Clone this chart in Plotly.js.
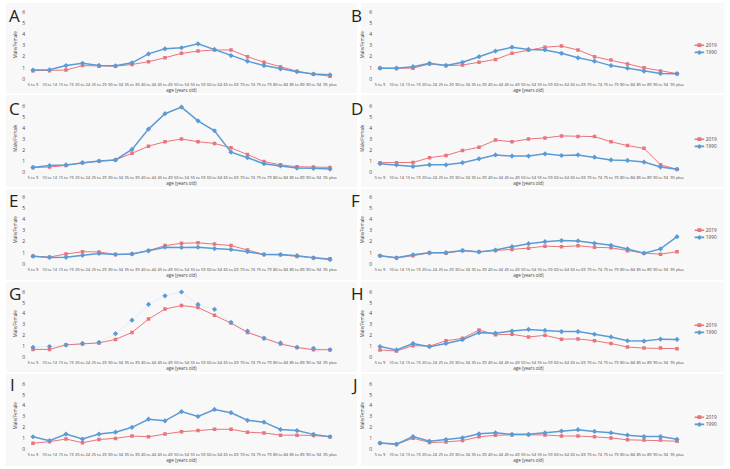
<!DOCTYPE html>
<html><head><meta charset="utf-8">
<script src="https://cdn.plot.ly/plotly-3.0.1.min.js"></script>
<style>html,body{margin:0;padding:0;background:#fff}#chart{width:730px;height:469px}</style>
</head><body><div id="chart"></div>
<script>
const ageGroups = ['5 to 9','10 to 14','15 to 19','20 to 24','25 to 29','30 to 34','35 to 39','40 to 44','45 to 49','50 to 54','55 to 59','60 to 64','65 to 69','70 to 74','75 to 79','80 to 84','85 to 89','90 to 94','95 plus'];
const panelLabels = ['A','B','C','D','E','F','G','H','I','J'];
const seriesNames = ['2019','1990'];

const A_2019 = [0.75,0.75,0.80,1.20,1.15,1.15,1.30,1.55,1.90,2.30,2.50,2.60,2.60,2.00,1.50,1.10,0.70,0.42,0.25];
const A_1990 = [0.80,0.83,1.20,1.40,1.22,1.18,1.45,2.25,2.70,2.80,3.15,2.65,2.10,1.60,1.20,0.90,0.65,0.45,0.38];
const B_2019 = [0.97,0.95,0.97,1.35,1.20,1.25,1.50,1.75,2.30,2.60,2.85,2.95,2.60,2.00,1.70,1.35,1.00,0.72,0.48];
const B_1990 = [0.97,0.97,1.10,1.40,1.20,1.50,2.00,2.50,2.85,2.65,2.60,2.30,1.90,1.60,1.20,0.97,0.70,0.50,0.48];
const C_2019 = [0.42,0.45,0.60,0.85,0.97,1.10,1.70,2.35,2.75,3.00,2.75,2.60,2.20,1.60,0.95,0.65,0.48,0.45,0.42];
const C_1990 = [0.42,0.58,0.64,0.85,1.00,1.10,2.05,3.90,5.30,5.90,4.65,3.75,1.80,1.30,0.75,0.55,0.36,0.33,0.27];
const D_2019 = [0.85,0.85,0.87,1.30,1.50,1.95,2.25,2.90,2.75,3.00,3.10,3.28,3.22,3.22,2.75,2.40,2.15,0.65,0.25];
const D_1990 = [0.75,0.65,0.50,0.65,0.65,0.85,1.20,1.55,1.45,1.45,1.65,1.50,1.55,1.35,1.10,1.05,0.90,0.45,0.25];
const E_2019 = [0.70,0.62,0.90,1.10,1.08,0.85,0.90,1.20,1.65,1.85,1.90,1.80,1.65,1.25,0.85,0.82,0.68,0.55,0.48];
const E_1990 = [0.70,0.58,0.60,0.78,0.95,0.85,0.90,1.18,1.50,1.48,1.50,1.38,1.30,1.10,0.85,0.85,0.75,0.55,0.40];
const F_2019 = [0.74,0.55,0.74,1.00,0.97,1.20,1.10,1.20,1.30,1.42,1.60,1.55,1.63,1.50,1.45,1.18,0.97,0.88,1.10];
const F_1990 = [0.74,0.55,0.83,1.00,1.02,1.20,1.08,1.25,1.55,1.82,2.00,2.10,2.07,1.85,1.68,1.35,0.97,1.35,2.45];
const G_2019 = [0.70,0.70,1.12,1.20,1.30,1.62,2.27,3.50,4.43,4.75,4.57,3.85,3.13,2.27,1.70,1.20,0.88,0.67,0.67];
const G_1990 = [0.90,0.97,1.10,1.25,1.35,2.15,3.40,4.85,5.65,6.00,4.85,4.40,3.20,2.40,1.75,1.30,0.90,0.80,0.67];
const H_2019 = [0.65,0.55,1.05,1.00,1.50,1.72,2.50,2.05,2.10,1.85,2.00,1.65,1.67,1.50,1.25,0.92,0.82,0.82,0.77];
const H_1990 = [0.97,0.65,1.25,0.95,1.25,1.60,2.25,2.20,2.40,2.55,2.45,2.35,2.35,2.10,1.85,1.50,1.47,1.65,1.62];
const I_2019 = [0.53,0.68,0.92,0.58,0.88,0.98,1.20,1.13,1.38,1.60,1.70,1.82,1.82,1.55,1.48,1.28,1.28,1.25,1.13];
const I_1990 = [1.13,0.77,1.38,0.92,1.38,1.55,2.00,2.75,2.60,3.45,3.00,3.65,3.35,2.65,2.48,1.80,1.70,1.35,1.13];
const J_2019 = [0.55,0.42,1.00,0.60,0.65,0.78,1.12,1.27,1.30,1.32,1.30,1.20,1.20,1.12,1.02,0.85,0.82,0.82,0.72];
const J_1990 = [0.55,0.45,1.15,0.72,0.87,1.03,1.40,1.50,1.35,1.35,1.50,1.65,1.78,1.62,1.50,1.28,1.15,1.15,0.90];

const panels2019 = [A_2019,B_2019,C_2019,D_2019,E_2019,F_2019,G_2019,H_2019,I_2019,J_2019];
const panels1990 = [A_1990,B_1990,C_1990,D_1990,E_1990,F_1990,G_1990,H_1990,I_1990,J_1990];

const W = 730, H = 469;
const RED = '#e8747c', BLUE = '#5b9bd5';
const rowPx = [[12,79],[106,172],[197,264],[292,357],[384,449]];
const colPx = [[26,337],[373,684]];
const letterPos = [[8,15],[350,15],[8,108],[350,108],[8,200],[350,200],[8,293],[350,293],[9,384],[350,384]];
const boxRows = [[3,93],[95,187],[189,280],[282,372],[374,466]];
const boxCols = [[6,357],[361,724]];
const legendIds = ['legend','legend2','legend3','legend4','legend5'];

const data = [];
const layout = {
  width: W, height: H,
  margin: {l:0,r:0,t:0,b:0,autoexpand:false},
  paper_bgcolor: '#ffffff', plot_bgcolor: 'rgba(0,0,0,0)',
  font: {family: 'Open Sans, sans-serif', color: '#555'},
  showlegend: true,
  shapes: [], annotations: []
};

for (let k = 0; k < 10; k++) {
  const r = Math.floor(k/2), c = k % 2;
  const ax = k === 0 ? '' : String(k+1);
  const isG = panelLabels[k] === 'G';
  const leg = c === 1 ? legendIds[r] : undefined;
  data.push({
    x: ageGroups, y: panels2019[k], name: seriesNames[0], type: 'scatter', mode: 'lines+markers',
    xaxis: 'x'+ax, yaxis: 'y'+ax, showlegend: c === 1, legend: leg,
    line: {color: RED, width: 1}, marker: {color: RED, size: 3.5, symbol: 'square'}
  });
  data.push({
    x: ageGroups, y: panels1990[k], name: seriesNames[1], type: 'scatter', mode: 'lines+markers',
    xaxis: 'x'+ax, yaxis: 'y'+ax, showlegend: c === 1, legend: leg,
    line: {color: isG ? 'rgba(91,155,213,0.12)' : BLUE, width: isG ? 1 : 1.5},
    marker: {color: BLUE, size: 4, symbol: 'diamond'}
  });
  const [p6, p0] = rowPx[r];
  const ppu = (p0 - p6) / 6;
  const top = p6 - 0.3*ppu, bot = p0 + 0.15*ppu;
  const [xl, xr] = colPx[c];
  const anchorY = 'y'+ax, anchorX = 'x'+ax;
  layout['xaxis'+ax] = {
    domain: [xl/W, xr/W], anchor: anchorY, type: 'category',
    range: [-0.424, 18.424], tickmode: 'linear', tick0: 0, dtick: 1, tickangle: 0,
    showgrid: false, zeroline: false, showline: false, ticks: '',
    tickfont: {size: 4, color: '#444'},
    title: {text: 'age (years old)', font: {size: 4.5, color: '#444'}, standoff: 0},
    fixedrange: true
  };
  layout['yaxis'+ax] = {
    domain: [1 - bot/H, 1 - top/H], anchor: anchorX,
    range: [-0.15, 6.3], tickmode: 'linear', tick0: 0, dtick: 1,
    showgrid: false, zeroline: false, showline: false, ticks: '',
    tickfont: {size: 5, color: '#444'},
    title: {text: 'Male/Female', font: {size: 4.5, color: '#444'}, standoff: 4},
    fixedrange: true
  };
  const [by0, by1] = boxRows[r];
  const [bx0, bx1] = boxCols[c];
  layout.shapes.push({type:'rect', xref:'paper', yref:'paper', layer:'below',
    x0: bx0/W, x1: bx1/W, y0: 1 - by1/H, y1: 1 - by0/H, fillcolor: '#f8f8f8', line: {width: 0}});
  layout.annotations.push({xref:'paper', yref:'paper', x: letterPos[k][0]/W, y: 1 - letterPos[k][1]/H,
    xanchor:'left', yanchor:'middle', text: panelLabels[k], showarrow: false, borderpad: 0,
    font: {size: 17, color: '#222', family: 'Open Sans, sans-serif'}});
  if (c === 1) {
    layout[legendIds[r]] = {
      x: 693/W, y: 1 - (p6 + 28)/H, xanchor: 'left', yanchor: 'top',
      bgcolor: 'rgba(0,0,0,0)', borderwidth: 0, itemsizing: 'constant',
      font: {size: 15, color: '#444'}, tracegroupgap: 0
    };
  }
}

Plotly.newPlot('chart', data, layout, {staticPlot: true, displayModeBar: false}).then(gd => {
  legendIds.forEach(id => {
    const g = gd.querySelector('.infolayer > g.' + id);
    if (g) {
      const t = g.getAttribute('transform') || '';
      g.setAttribute('transform', t + ' scale(0.32)');
    }
  });
});
</script>
</body></html>
